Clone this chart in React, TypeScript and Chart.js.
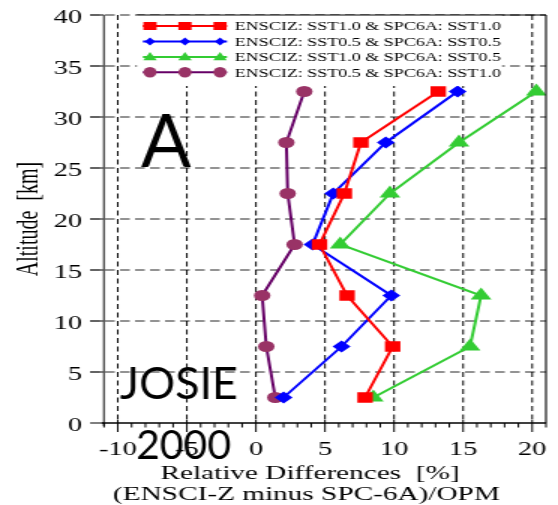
import React, { useEffect, useRef } from 'react';
import { Chart, registerables } from 'chart.js';

Chart.register(...registerables);

// ---- data ----
const altitudes = [2.5, 7.5, 12.5, 17.5, 22.5, 27.5, 32.5];
const ensciSst10Spc10 = [7.9, 9.9, 6.6, 4.6, 6.4, 7.6, 13.2];
const ensciSst05Spc05 = [2.0, 6.2, 9.8, 4.1, 5.6, 9.4, 14.6];
const ensciSst10Spc05 = [8.5, 15.5, 16.3, 6.1, 9.7, 14.7, 20.3];
const ensciSst05Spc10 = [1.4, 0.75, 0.45, 2.8, 2.3, 2.2, 3.5];
const seriesLabels = [
  'ENSCIZ: SST1.0 & SPC6A: SST1.0',
  'ENSCIZ: SST0.5 & SPC6A: SST0.5',
  'ENSCIZ: SST1.0 & SPC6A: SST0.5',
  'ENSCIZ: SST0.5 & SPC6A: SST1.0',
];
const xTickValues = [-10, -5, 0, 5, 10, 15, 20];
const yTickValues = [0, 5, 10, 15, 20, 25, 30, 35, 40];
const xTitleLines = ['Relative Differences  [%]', '(ENSCI-Z minus SPC-6A)/OPM'];
const yTitle = 'Altitude  [km]';
const overlayTexts = ['A', 'JOSIE', '2000'];

// internal canvas is horizontally stretched to the window width
const W = 372;
const H = 505;
const SX = 558 / W;
const SERIF = '"Liberation Serif", "Times New Roman", serif';

const toPts = (vals: number[]) => vals.map((x, i) => ({ x, y: altitudes[i] }));

const styles = [
  { line: '#ff0000', fill: '#ff0000', shape: 'rect', r: 7.3 },
  { line: '#0000ff', fill: '#0000ff', shape: 'rectRot', r: 6 },
  { line: '#33cc33', fill: '#33cc33', shape: 'triangle', r: 8 },
  { line: '#660066', fill: '#993366', shape: 'circle', r: 5.5 },
];
const seriesValues = [ensciSst10Spc10, ensciSst05Spc05, ensciSst10Spc05, ensciSst05Spc10];

function drawLegendMarker(ctx: CanvasRenderingContext2D, shape: string, x: number, y: number, color: string) {
  ctx.fillStyle = color;
  ctx.beginPath();
  if (shape === 'rect') {
    ctx.rect(x - 4.4, y - 4, 8.8, 8);
  } else if (shape === 'rectRot') {
    ctx.moveTo(x - 3.5, y);
    ctx.lineTo(x, y - 3.9);
    ctx.lineTo(x + 3.5, y);
    ctx.lineTo(x, y + 3.9);
    ctx.closePath();
  } else if (shape === 'triangle') {
    ctx.moveTo(x, y - 5);
    ctx.lineTo(x + 4.5, y + 3.3);
    ctx.lineTo(x - 4.5, y + 3.3);
    ctx.closePath();
  } else {
    ctx.ellipse(x, y, 4.4, 5.3, 0, 0, Math.PI * 2);
  }
  ctx.fill();
}

const decorPlugin = {
  id: 'decor',
  beforeDatasetsDraw(chart: any) {
    const ctx: CanvasRenderingContext2D = chart.ctx;
    const xs = chart.scales.x;
    const ys = chart.scales.y;
    const { left, right, top, bottom } = chart.chartArea;
    ctx.save();
    ctx.strokeStyle = '#707070';
    ctx.lineWidth = 1.5;
    ctx.setLineDash([6.5, 3.5]);
    yTickValues.forEach((v) => {
      if (v === 0) return;
      const py = ys.getPixelForValue(v);
      ctx.beginPath();
      ctx.moveTo(left - 9.3, py);
      ctx.lineTo(right, py);
      ctx.stroke();
    });
    ctx.strokeStyle = '#000';
    ctx.lineWidth = 1;
    ctx.setLineDash([5, 3.5]);
    xTickValues.forEach((v) => {
      const px = xs.getPixelForValue(v);
      ctx.beginPath();
      ctx.moveTo(px, top);
      ctx.lineTo(px, bottom);
      ctx.stroke();
    });
    ctx.restore();
  },
  afterDatasetsDraw(chart: any) {
    const ctx: CanvasRenderingContext2D = chart.ctx;
    const xs = chart.scales.x;
    const ys = chart.scales.y;
    const { left, right, top, bottom } = chart.chartArea;
    ctx.save();
    ctx.setLineDash([]);

    // legend box
    const lx0 = 91.3, lx1 = 334.7, ly0 = top, ly1 = 86;
    ctx.fillStyle = '#fff';
    ctx.fillRect(lx0, ly0, lx1 - lx0, ly1 - ly0);
    const rows = [26, 41.5, 57, 72.3];
    rows.forEach((ry, i) => {
      const st = styles[i];
      ctx.strokeStyle = st.line;
      ctx.lineWidth = 2;
      ctx.beginPath();
      ctx.moveTo(95.3, ry);
      ctx.lineTo(151.3, ry);
      ctx.stroke();
      [100, 123.3, 146.7].forEach((mx) => drawLegendMarker(ctx, st.shape, mx, ry, st.fill));
      ctx.fillStyle = '#000';
      ctx.font = `12px ${SERIF}`;
      ctx.textAlign = 'left';
      ctx.textBaseline = 'alphabetic';
      ctx.fillText(seriesLabels[i], 156.5, ry + 4.3);
    });

    // borders
    ctx.strokeStyle = '#000';
    ctx.lineWidth = 1.1;
    ctx.beginPath();
    ctx.moveTo(lx0, top);
    ctx.lineTo(right, top);
    ctx.stroke();
    ctx.beginPath();
    ctx.moveTo(right, top);
    ctx.lineTo(right, bottom);
    ctx.stroke();

    // left axis + ticks
    ctx.strokeStyle = '#555';
    ctx.lineWidth = 1.4;
    ctx.beginPath();
    ctx.moveTo(left, top);
    ctx.lineTo(left, bottom + 3);
    ctx.stroke();
    ctx.lineWidth = 1.5;
    yTickValues.forEach((v) => {
      const py = ys.getPixelForValue(v);
      ctx.beginPath();
      ctx.moveTo(left - 9.3, py);
      ctx.lineTo(left, py);
      ctx.stroke();
    });

    // bottom axis + ticks
    ctx.strokeStyle = '#000';
    ctx.lineWidth = 1.5;
    ctx.beginPath();
    ctx.moveTo(left - 1.5, bottom);
    ctx.lineTo(right, bottom);
    ctx.stroke();
    ctx.lineWidth = 1;
    const xMin = Math.ceil(xs.min);
    const xMax = Math.floor(xs.max);
    for (let v = xMin; v <= xMax; v++) {
      const px = xs.getPixelForValue(v);
      const major = v % 5 === 0;
      ctx.beginPath();
      ctx.moveTo(px, major ? bottom - 3 : bottom);
      ctx.lineTo(px, major ? bottom + 9 : bottom + 4.5);
      ctx.stroke();
    }

    // tick labels
    ctx.fillStyle = '#000';
    ctx.font = `19px ${SERIF}`;
    ctx.textBaseline = 'alphabetic';
    ctx.textAlign = 'right';
    yTickValues.forEach((v) => {
      const py = ys.getPixelForValue(v);
      ctx.fillText(String(v), 54.7, py + 7.5);
    });
    ctx.textAlign = 'center';
    xTickValues.forEach((v) => {
      const px = xs.getPixelForValue(v);
      ctx.fillText(String(v), px, bottom + 32);
    });

    // axis titles
    ctx.font = `19.5px ${SERIF}`;
    ctx.textAlign = 'center';
    ctx.fillText(xTitleLines[0], 206.7, 479);
    ctx.fillText(xTitleLines[1], 204.3, 500);
    ctx.save();
    ctx.translate(24.7, 219);
    ctx.rotate(-Math.PI / 2);
    ctx.font = `20px ${SERIF}`;
    ctx.fillText(yTitle, 0, 0);
    ctx.restore();

    // overlay annotation texts (not stretched)
    const drawPlain = (t: string, xObs: number, base: number, size: number) => {
      ctx.save();
      ctx.translate(xObs / SX, base);
      ctx.scale(1 / SX, 1);
      ctx.font = `${size}px Lato, "Open Sans", sans-serif`;
      ctx.textAlign = 'left';
      ctx.textBaseline = 'alphabetic';
      ctx.fillStyle = '#000';
      ctx.fillText(t, 0, 0);
      ctx.restore();
    };
    drawPlain(overlayTexts[0], 141, 167, 74);
    drawPlain(overlayTexts[1], 120, 399, 45);
    drawPlain(overlayTexts[2], 136, 459, 41);

    ctx.restore();
  },
};

export default function App() {
  const ref = useRef<HTMLCanvasElement | null>(null);
  useEffect(() => {
    if (!ref.current) return;
    const chart = new Chart(ref.current, {
      type: 'scatter',
      data: {
        datasets: seriesValues.map((vals, i) => ({
          label: seriesLabels[i],
          data: toPts(vals),
          showLine: true,
          borderColor: styles[i].line,
          backgroundColor: styles[i].fill,
          borderWidth: 2,
          pointStyle: styles[i].shape as any,
          pointRadius: styles[i].r,
          pointHoverRadius: styles[i].r,
          pointBackgroundColor: styles[i].fill,
          pointBorderColor: styles[i].fill,
          pointBorderWidth: 0,
        })),
      },
      options: {
        responsive: false,
        devicePixelRatio: 1,
        animation: false,
        events: [],
        layout: { padding: { top: 15, right: W - 364.7, left: 0, bottom: 0 } },
        plugins: { legend: { display: false }, tooltip: { enabled: false } },
        scales: {
          x: {
            type: 'linear',
            min: -11,
            max: 21,
            ticks: { display: false },
            grid: { display: false },
            border: { display: false },
            afterFit: (s: any) => {
              s.height = 82;
            },
          },
          y: {
            type: 'linear',
            min: 0,
            max: 40,
            ticks: { display: false },
            grid: { display: false },
            border: { display: false },
            afterFit: (s: any) => {
              s.width = 104 / SX;
            },
          },
        },
      },
      plugins: [decorPlugin],
    });
    return () => chart.destroy();
  }, []);
  return (
    <div style={{ position: 'fixed', left: 0, top: 0, width: 558, height: 505, background: '#fff' }}>
      <canvas ref={ref} width={W} height={H} style={{ width: '558px', height: '505px', display: 'block' }} />
    </div>
  );
}
